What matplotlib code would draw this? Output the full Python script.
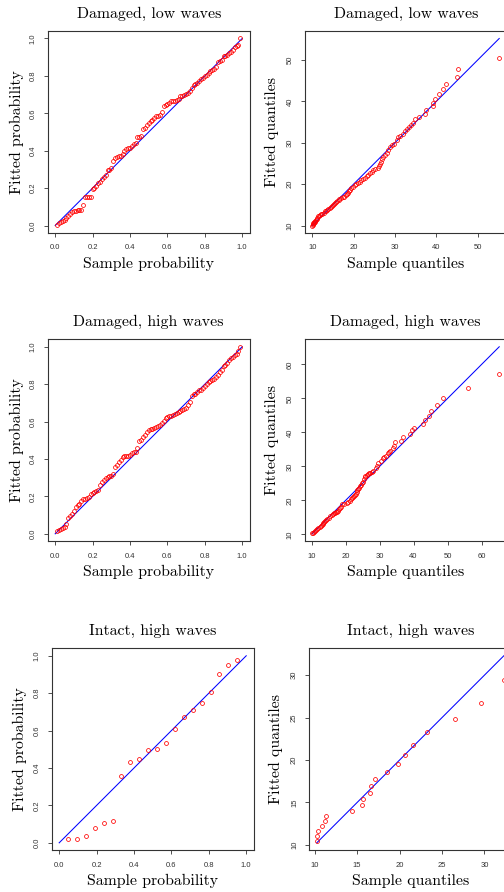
import matplotlib
matplotlib.use("Agg")
import matplotlib.pyplot as plt
import numpy as np

# --- data ---

# Damaged, low waves (P-P)
pp_low_x = [0.01, 0.02, 0.03, 0.04, 0.05, 0.06, 0.07, 0.08, 0.09, 0.10,
            0.11, 0.12, 0.13, 0.14, 0.15, 0.16, 0.17, 0.18, 0.19, 0.20,
            0.21, 0.22, 0.23, 0.24, 0.25, 0.26, 0.27, 0.28, 0.29, 0.30,
            0.31, 0.32, 0.33, 0.34, 0.35, 0.36, 0.37, 0.38, 0.39, 0.40,
            0.41, 0.42, 0.43, 0.44, 0.45, 0.46, 0.47, 0.48, 0.49, 0.50,
            0.51, 0.52, 0.53, 0.54, 0.55, 0.56, 0.57, 0.58, 0.59, 0.60,
            0.61, 0.62, 0.63, 0.64, 0.65, 0.66, 0.67, 0.68, 0.69, 0.70,
            0.71, 0.72, 0.73, 0.74, 0.75, 0.76, 0.77, 0.78, 0.79, 0.80,
            0.81, 0.82, 0.83, 0.84, 0.85, 0.86, 0.87, 0.88, 0.89, 0.90,
            0.91, 0.92, 0.93, 0.94, 0.95, 0.96, 0.97, 0.98, 0.99]
pp_low_y = [0.005, 0.012, 0.020, 0.025, 0.030, 0.040, 0.050, 0.060, 0.070, 0.075,
            0.080, 0.085, 0.085, 0.085, 0.110, 0.150, 0.155, 0.155, 0.155, 0.195,
            0.200, 0.210, 0.225, 0.235, 0.250, 0.260, 0.270, 0.295, 0.295, 0.305,
            0.345, 0.360, 0.365, 0.370, 0.370, 0.385, 0.400, 0.410, 0.415, 0.415,
            0.425, 0.435, 0.440, 0.475, 0.475, 0.480, 0.515, 0.520, 0.535, 0.550,
            0.560, 0.565, 0.575, 0.585, 0.585, 0.590, 0.605, 0.640, 0.645, 0.650,
            0.655, 0.665, 0.665, 0.665, 0.670, 0.675, 0.690, 0.695, 0.700, 0.705,
            0.710, 0.720, 0.735, 0.750, 0.755, 0.760, 0.770, 0.785, 0.790, 0.800,
            0.805, 0.815, 0.825, 0.830, 0.835, 0.850, 0.875, 0.880, 0.885, 0.905,
            0.905, 0.910, 0.920, 0.930, 0.940, 0.955, 0.960, 0.965, 1.000]

# Damaged, low waves (Q-Q)
qq_low_x = [10.0, 10.1, 10.2, 10.3, 10.4, 10.5, 10.6, 10.8, 11.0, 11.1,
            11.2, 11.4, 11.6, 11.8, 12.1, 12.4, 12.8, 13.0, 13.3, 13.6,
            13.9, 14.2, 14.5, 14.8, 15.0, 15.3, 15.6, 15.8, 16.1, 16.4,
            16.6, 17.0, 17.4, 17.8, 18.1, 18.4, 18.6, 18.9, 19.1, 19.5,
            19.9, 20.3, 20.7, 21.1, 21.5, 21.9, 22.3, 22.8, 23.2, 23.5,
            24.0, 24.4, 24.7, 25.3, 26.0, 26.2, 26.5, 26.7, 26.9, 27.1,
            27.5, 28.0, 28.4, 28.7, 29.2, 29.7, 30.4, 30.8, 31.3, 32.0,
            32.4, 32.8, 33.3, 34.0, 34.4, 34.8, 35.8, 37.2, 37.6, 39.3,
            39.3, 39.7, 40.6, 41.7, 42.3, 45.1, 45.3, 55.2]
qq_low_y = [10.0, 10.2, 10.4, 10.5, 10.7, 10.8, 10.9, 11.1, 11.3, 11.6,
            11.9, 12.2, 12.4, 12.5, 12.7, 12.9, 13.1, 13.4, 13.6, 13.8,
            14.0, 14.3, 14.5, 14.8, 14.9, 15.2, 15.4, 15.6, 15.9, 16.1,
            16.3, 16.6, 16.9, 17.0, 17.3, 17.6, 17.9, 18.3, 18.6, 19.0,
            19.4, 19.7, 20.0, 20.3, 20.6, 20.9, 21.2, 21.6, 21.9, 22.2,
            22.6, 23.0, 23.3, 23.7, 24.0, 24.4, 24.8, 25.4, 26.0, 26.6,
            27.1, 27.6, 28.2, 28.9, 29.4, 29.8, 30.6, 31.3, 31.6, 32.2,
            32.8, 33.4, 33.8, 34.3, 34.8, 35.8, 36.3, 37.0, 38.0, 38.8,
            39.7, 40.6, 41.8, 43.0, 44.3, 46.0, 47.9, 50.6]

# Damaged, high waves (P-P)
pp_high_x = pp_low_x
pp_high_y = [0.015, 0.020, 0.025, 0.030, 0.035, 0.055, 0.085, 0.095, 0.105, 0.120,
             0.145, 0.155, 0.160, 0.175, 0.185, 0.185, 0.190, 0.195, 0.215, 0.220,
             0.225, 0.230, 0.235, 0.260, 0.275, 0.290, 0.300, 0.305, 0.310, 0.310,
             0.320, 0.355, 0.370, 0.385, 0.395, 0.410, 0.415, 0.415, 0.415, 0.420,
             0.430, 0.435, 0.440, 0.460, 0.495, 0.500, 0.515, 0.530, 0.545, 0.555,
             0.560, 0.560, 0.565, 0.570, 0.575, 0.580, 0.595, 0.605, 0.620, 0.625,
             0.630, 0.630, 0.635, 0.640, 0.645, 0.650, 0.655, 0.660, 0.665, 0.675,
             0.690, 0.705, 0.735, 0.745, 0.750, 0.760, 0.770, 0.770, 0.780, 0.790,
             0.800, 0.810, 0.815, 0.825, 0.830, 0.840, 0.850, 0.865, 0.875, 0.895,
             0.900, 0.915, 0.930, 0.940, 0.945, 0.955, 0.960, 0.975, 1.000]

# Damaged, high waves (Q-Q)
qq_high_x = [10.2, 10.4, 10.7, 11.0, 11.3, 11.7, 12.0, 12.4, 12.7, 13.0,
             13.3, 13.5, 13.8, 14.1, 14.4, 14.7, 15.1, 15.5, 15.9, 16.3,
             16.6, 17.0, 17.3, 17.6, 17.9, 18.1, 18.3, 18.6, 19.1, 19.7,
             20.3, 20.8, 21.2, 21.6, 22.0, 22.3, 22.5, 22.8, 23.0, 23.3,
             23.5, 23.8, 24.0, 24.3, 24.6, 24.8, 25.0, 25.3, 25.6, 25.8,
             26.2, 26.5, 26.9, 27.2, 27.7, 28.1, 28.9, 29.3, 29.7, 30.4,
             30.9, 31.4, 31.9, 32.4, 32.7, 33.1, 33.9, 34.4, 34.6, 36.3,
             36.8, 39.0, 39.6, 40.0, 42.9, 43.5, 44.5, 45.2, 46.8, 48.8,
             56.1, 65.2]
qq_high_y = [10.3, 10.5, 10.8, 11.0, 11.2, 11.5, 11.8, 12.2, 12.5, 12.8,
             13.1, 13.5, 13.7, 14.1, 14.3, 14.5, 14.9, 15.3, 15.7, 16.0,
             16.3, 16.4, 16.5, 16.7, 17.0, 17.4, 17.8, 18.2, 18.9, 19.1,
             19.4, 19.7, 19.9, 20.3, 20.7, 21.0, 21.3, 21.7, 22.0, 22.5,
             23.0, 23.4, 23.8, 24.2, 24.6, 25.0, 25.5, 26.3, 26.8, 27.3,
             27.5, 27.8, 28.0, 28.2, 28.4, 28.7, 29.5, 30.2, 30.9, 31.7,
             32.4, 32.8, 33.2, 33.9, 34.3, 34.7, 35.4, 36.1, 37.1, 37.6,
             38.8, 39.6, 40.6, 41.4, 42.5, 43.7, 44.7, 46.3, 48.0, 50.1,
             53.1, 57.3]

# Intact, high waves (P-P)
pp_intact_x = [0.048, 0.095, 0.143, 0.190, 0.238, 0.286, 0.333, 0.381, 0.429, 0.476,
               0.524, 0.571, 0.619, 0.667, 0.714, 0.762, 0.810, 0.857, 0.905, 0.952]
pp_intact_y = [0.021, 0.021, 0.036, 0.080, 0.107, 0.118, 0.357, 0.434, 0.450, 0.498,
               0.504, 0.536, 0.610, 0.675, 0.712, 0.748, 0.809, 0.900, 0.952, 0.980]

# Intact, high waves (Q-Q)
qq_intact_x = [10.24, 10.24, 10.43, 10.90, 11.20, 11.34, 14.39, 15.53, 15.73, 16.52,
               16.60, 17.15, 18.50, 19.84, 20.63, 21.54, 23.20, 26.52, 29.64, 32.29]
qq_intact_y = [10.51, 10.99, 11.58, 12.20, 12.80, 13.37, 13.96, 14.67, 15.39, 16.10,
               16.93, 17.76, 18.60, 19.58, 20.60, 21.80, 23.27, 24.80, 26.67, 29.40]

prob_ticks = [0.0, 0.2, 0.4, 0.6, 0.8, 1.0]

W, H = 504, 892
fig = plt.figure(figsize=(W / 100, H / 100), dpi=100)
fig.patch.set_facecolor("white")

SERIF = "cmr10"
GREY = "#333333"
FS = 11.4


def r_lim(lo, hi):
    # R pads the data range by 4% on each side
    pad = 0.04 * (hi - lo)
    return lo - pad, hi + pad


def panel(left, top, size, x, y, line, lim, ticks, title, xlabel, ylabel,
          fmt="{:g}", ylab_off=31):
    ax = fig.add_axes([left / W, 1 - (top + size) / H, size / W, size / H])
    ax.plot(line, line, color="blue", lw=0.75, zorder=2)
    ax.plot(x, y, ls="none", marker="o", ms=2.8, mfc="none", mec="red",
            mew=0.55, zorder=3)
    ax.set_xlim(*lim)
    ax.set_ylim(*lim)
    ax.set_xticks(ticks)
    ax.set_yticks(ticks)
    ax.set_xticklabels([fmt.format(t) for t in ticks])
    ax.set_yticklabels([fmt.format(t) for t in ticks], rotation=90, va="center")
    ax.tick_params(direction="out", length=2.6, width=0.6, color=GREY,
                   labelsize=5.5, labelcolor=GREY, pad=5.5)
    for lab in ax.get_xticklabels() + ax.get_yticklabels():
        lab.set_family("Liberation Sans")
    for s in ax.spines.values():
        s.set_color(GREY)
        s.set_linewidth(0.8)
    ax.annotate(title, xy=(0.5, 1), xycoords="axes fraction", xytext=(0, 17),
                textcoords="offset pixels", ha="center", va="center",
                fontsize=FS, family=SERIF)
    ax.annotate(xlabel, xy=(0.5, 0), xycoords="axes fraction", xytext=(0, -31),
                textcoords="offset pixels", ha="center", va="center",
                fontsize=FS, family=SERIF)
    ax.annotate(ylabel, xy=(0, 0.5), xycoords="axes fraction",
                xytext=(-ylab_off, 0), textcoords="offset pixels", ha="center",
                va="center", rotation=90, fontsize=FS, family=SERIF)
    return ax


pfmt = "{:.1f}"

panel(47.7, 31, 202, pp_low_x, pp_low_y, [0, 1], r_lim(0, 1), prob_ticks,
      "Damaged, low waves", "Sample probability", "Fitted probability", pfmt)
lo, hi = min(qq_low_x), max(qq_low_x)
panel(304.7, 31, 202, qq_low_x, qq_low_y, [lo, hi], r_lim(lo, hi),
      [10, 20, 30, 40, 50], "Damaged, low waves", "Sample quantiles",
      "Fitted quantiles", ylab_off=33)

panel(47.7, 339.3, 202, pp_high_x, pp_high_y, [0, 1], r_lim(0, 1), prob_ticks,
      "Damaged, high waves", "Sample probability", "Fitted probability", pfmt)
lo, hi = min(qq_high_x), max(qq_high_x)
panel(304.7, 339.3, 202, qq_high_x, qq_high_y, [lo, hi], r_lim(lo, hi),
      [10, 20, 30, 40, 50, 60], "Damaged, high waves", "Sample quantiles",
      "Fitted quantiles", ylab_off=33)

panel(51.7, 648.3, 202, pp_intact_x, pp_intact_y, [0, 1], r_lim(0, 1),
      prob_ticks, "Intact, high waves", "Sample probability",
      "Fitted probability", pfmt, ylab_off=32)
lo, hi = min(qq_intact_x), max(qq_intact_x)
panel(309.3, 648.3, 202, qq_intact_x, qq_intact_y, [lo, hi], r_lim(lo, hi),
      [10, 15, 20, 25, 30], "Intact, high waves", "Sample quantiles",
      "Fitted quantiles", ylab_off=33)

fig.savefig("out.png", dpi=100, facecolor="white")
